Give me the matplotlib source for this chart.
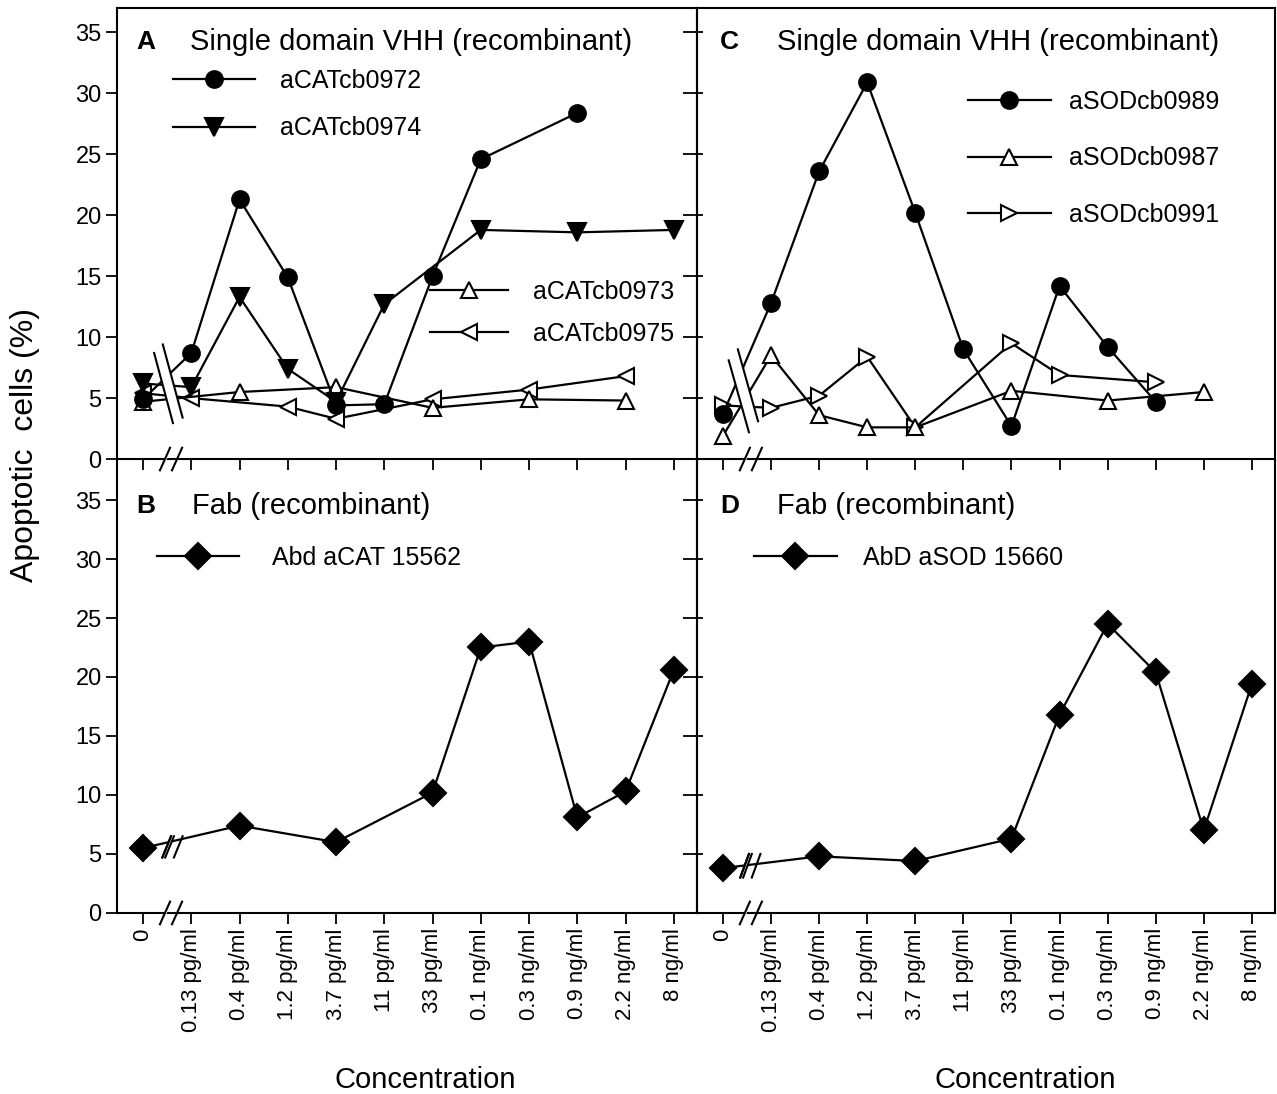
import matplotlib
matplotlib.use('Agg')
import matplotlib.pyplot as plt
from matplotlib.patches import Polygon

plt.rcParams['font.family'] = ['Liberation Sans', 'DejaVu Sans']

# concentrations (categorical x axis)
conc_labels = ['0', '0.13 pg/ml', '0.4 pg/ml', '1.2 pg/ml', '3.7 pg/ml', '11 pg/ml',
               '33 pg/ml', '0.1 ng/ml', '0.3 ng/ml', '0.9 ng/ml', '2.2 ng/ml', '8 ng/ml']

# panel A - VHH anti-catalase
cat0972_x = [0, 1, 2, 3, 4, 5, 6, 7, 9]
cat0972_y = [4.9, 8.7, 21.3, 14.9, 4.4, 4.5, 15.0, 24.6, 28.4]
cat0974_x = [0, 1, 2, 3, 4, 5, 7, 9, 11]
cat0974_y = [6.2, 5.9, 13.3, 7.4, 4.7, 12.7, 18.8, 18.6, 18.8]
cat0973_x = [0, 2, 4, 6, 8, 10]
cat0973_y = [4.7, 5.5, 5.9, 4.2, 4.9, 4.8]
cat0975_x = [0, 1, 3, 4, 6, 8, 10]
cat0975_y = [5.4, 5.0, 4.3, 3.3, 4.9, 5.7, 6.8]

# panel C - VHH anti-SOD
sod0989_x = [0, 1, 2, 3, 4, 5, 6, 7, 8, 9]
sod0989_y = [3.7, 12.8, 23.6, 30.9, 20.2, 9.0, 2.7, 14.2, 9.2, 4.7]
sod0987_x = [0, 1, 2, 3, 4, 6, 8, 10]
sod0987_y = [1.9, 8.5, 3.6, 2.6, 2.6, 5.6, 4.8, 5.5]
sod0991_x = [0, 1, 2, 3, 4, 6, 7, 9]
sod0991_y = [4.4, 4.2, 5.2, 8.4, 2.6, 9.5, 6.9, 6.3]

# panels B, D - Fab
fabcat_x = [0, 2, 4, 6, 7, 8, 9, 10, 11]
fabcat_y = [5.5, 7.4, 6.0, 10.2, 22.5, 23.0, 8.1, 10.3, 20.6]
fabsod_x = [0, 2, 4, 6, 7, 8, 9, 10, 11]
fabsod_y = [3.8, 4.8, 4.4, 6.3, 16.8, 24.5, 20.4, 7.0, 19.4]

FS = 18      # legend text
TFS = 21     # panel titles
LW = 1.6
MS = 12

fig = plt.figure(figsize=(12.77, 10.94), dpi=100)
fig.patch.set_facecolor('white')
axA = fig.add_axes([0.0916, 0.5804, 0.4542, 0.4122])
axC = fig.add_axes([0.5458, 0.5804, 0.4526, 0.4122])
axB = fig.add_axes([0.0916, 0.1655, 0.4542, 0.4141])
axD = fig.add_axes([0.5458, 0.1655, 0.4526, 0.4141])


def line(ax, x, y, marker, filled=True, label=None, ms=MS):
    fc = 'black' if filled else 'white'
    ax.plot(x, y, color='black', lw=LW, marker=marker, ms=ms, mfc=fc,
            mec='black', mew=1.5, label=label, zorder=2)


def gap(ax, pts):
    # white band with two slanted strokes, hides the lines between 0 and first conc.
    ax.add_patch(Polygon(pts, closed=True, fc='white', ec='none', zorder=3, clip_on=False))
    ax.plot([pts[0][0], pts[1][0]], [pts[0][1], pts[1][1]], color='black', lw=1.5,
            zorder=4, clip_on=False)
    ax.plot([pts[3][0], pts[2][0]], [pts[3][1], pts[2][1]], color='black', lw=1.5,
            zorder=4, clip_on=False)


def axis_gap(ax):
    tr = ax.get_xaxis_transform()
    h = 0.025
    ax.add_patch(Polygon([(0.35, -h), (0.56, h), (0.6, h), (0.39, -h)], closed=True,
                         fc='white', ec='none', zorder=5, clip_on=False, transform=tr))
    for x0 in (0.35, 0.6):
        ax.plot([x0, x0 + 0.21], [-h, h], color='black', lw=1.5, zorder=6,
                clip_on=False, transform=tr)


# ---- A
line(axA, cat0975_x, cat0975_y, '<', False, 'aCATcb0975')
line(axA, cat0973_x, cat0973_y, '^', False, 'aCATcb0973')
line(axA, cat0974_x, cat0974_y, 'v', True, 'aCATcb0974', ms=13)
line(axA, cat0972_x, cat0972_y, 'o', True, 'aCATcb0972')
gap(axA, [(0.23, 8.7), (0.62, 2.95), (0.82, 3.4), (0.41, 9.4)])

# ---- C
line(axC, sod0991_x, sod0991_y, '>', False, 'aSODcb0991')
line(axC, sod0987_x, sod0987_y, '^', False, 'aSODcb0987')
line(axC, sod0989_x, sod0989_y, 'o', True, 'aSODcb0989')
gap(axC, [(0.12, 8.1), (0.54, 2.2), (0.73, 3.1), (0.31, 9.0)])

# ---- B, D
line(axB, fabcat_x, fabcat_y, 'D', True, 'Abd aCAT 15562', ms=13)
gap(axB, [(0.40, 4.7), (0.58, 6.5), (0.64, 6.5), (0.46, 4.7)])
axB.plot([0.40, 0.58], [4.7, 6.5], color='black', lw=1.5, zorder=4)
axB.plot([0.64, 0.82], [4.7, 6.5], color='black', lw=1.5, zorder=4)

line(axD, fabsod_x, fabsod_y, 'D', True, 'AbD aSOD 15660', ms=13)
gap(axD, [(0.36, 3.0), (0.54, 5.0), (0.6, 5.0), (0.42, 3.0)])
axD.plot([0.36, 0.54], [3.0, 5.0], color='black', lw=1.5, zorder=4)
axD.plot([0.60, 0.78], [3.0, 5.0], color='black', lw=1.5, zorder=4)

# ---- axes styling
for ax, left_col, top_row in [(axA, True, True), (axC, False, True),
                              (axB, True, False), (axD, False, False)]:
    ax.patch.set_visible(False)
    for s in ax.spines.values():
        s.set_linewidth(1.5)
    if not top_row:
        ax.spines['top'].set_visible(False)
    ax.set_xlim(-0.54, 11.48)
    ax.set_ylim(0, 37.0 if top_row else 38.4)
    ax.set_xticks(range(len(conc_labels)))
    ax.set_yticks(range(0, 36, 5))
    ax.tick_params(axis='x', direction='out', length=8, width=1.3, bottom=True, top=False)
    if top_row:
        ax.set_xticklabels([])
    else:
        ax.set_xticklabels(conc_labels, rotation=90, fontsize=16)
        ax.tick_params(axis='x', pad=3)
    if left_col:
        ax.tick_params(axis='y', which='both', direction='out', length=8, width=1.3,
                       labelsize=17, pad=3)
        ax.tick_params(axis='y', right=True)
        # right ticks point inward
        for t in ax.yaxis.get_major_ticks():
            t.tick2line.set_marker(0)
            t.tick2line.set_markersize(10)
    else:
        ax.tick_params(axis='y', direction='in', length=4, width=1.3, labelleft=False)
    axis_gap(ax)

# panel titles
axA.text(0.034, 0.925, 'A', transform=axA.transAxes, fontsize=19, fontweight='bold', va='center')
axA.text(0.126, 0.925, 'Single domain VHH (recombinant)', transform=axA.transAxes,
         fontsize=TFS, va='center')
axC.text(0.040, 0.925, 'C', transform=axC.transAxes, fontsize=19, fontweight='bold', va='center')
axC.text(0.138, 0.925, 'Single domain VHH (recombinant)', transform=axC.transAxes,
         fontsize=TFS, va='center')
axB.text(0.034, 0.898, 'B', transform=axB.transAxes, fontsize=19, fontweight='bold', va='center')
axB.text(0.129, 0.898, 'Fab (recombinant)', transform=axB.transAxes, fontsize=TFS, va='center')
axD.text(0.040, 0.898, 'D', transform=axD.transAxes, fontsize=19, fontweight='bold', va='center')
axD.text(0.138, 0.898, 'Fab (recombinant)', transform=axD.transAxes, fontsize=TFS, va='center')

# legends
h, l = axA.get_legend_handles_labels()
leg1 = axA.legend([h[3], h[2]], [l[3], l[2]], loc='center left', bbox_to_anchor=(0.096, 0.786),
                  frameon=False, fontsize=FS, handlelength=3.3, handletextpad=1.0,
                  labelspacing=0.95, borderpad=0, borderaxespad=0, numpoints=1)
axA.add_artist(leg1)
axA.legend([h[1], h[0]], [l[1], l[0]], loc='center left', bbox_to_anchor=(0.54, 0.324),
           frameon=False, fontsize=FS, handlelength=3.1, handletextpad=1.0,
           labelspacing=0.7, borderpad=0, borderaxespad=0, numpoints=1)

h, l = axC.get_legend_handles_labels()
axC.legend([h[2], h[1], h[0]], [l[2], l[1], l[0]], loc='center left',
           bbox_to_anchor=(0.469, 0.667), frameon=False, fontsize=FS, handlelength=3.3,
           handletextpad=0.75, labelspacing=1.3, borderpad=0, borderaxespad=0, numpoints=1)

axB.legend(loc='center left', bbox_to_anchor=(0.069, 0.783), frameon=False, fontsize=FS,
           handlelength=3.3, handletextpad=1.3, borderpad=0, borderaxespad=0, numpoints=1)
axD.legend(loc='center left', bbox_to_anchor=(0.099, 0.783), frameon=False, fontsize=FS,
           handlelength=3.3, handletextpad=1.05, borderpad=0, borderaxespad=0, numpoints=1)

fig.text(25 / 1277, 1 - 445 / 1094, 'Apoptotic  cells (%)', rotation=90, fontsize=23,
         ha='center', va='center')
fig.text(425 / 1277, 1 - 1080 / 1094, 'Concentration', fontsize=21, ha='center', va='center')
fig.text(1025 / 1277, 1 - 1080 / 1094, 'Concentration', fontsize=21, ha='center', va='center')

fig.savefig('out.png', dpi=100, facecolor='white')
